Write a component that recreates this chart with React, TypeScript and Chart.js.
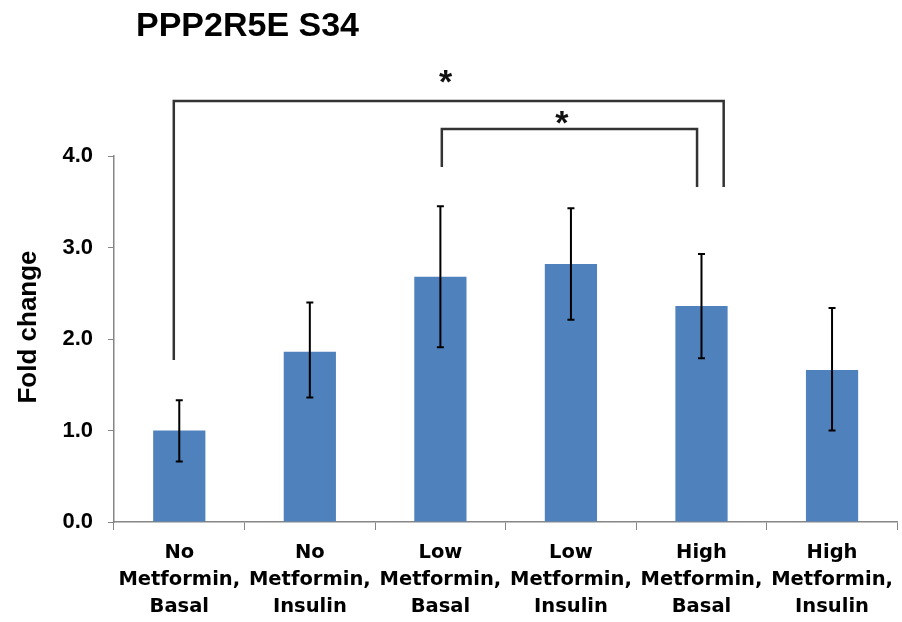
import React, { useEffect, useRef } from "react";
import { Chart, registerables } from "chart.js";

Chart.register(...registerables);

// Conditions on the x axis (one entry per line of the label)
const categories: string[][] = [
  ["No", "Metformin,", "Basal"],
  ["No", "Metformin,", "Insulin"],
  ["Low", "Metformin,", "Basal"],
  ["Low", "Metformin,", "Insulin"],
  ["High", "Metformin,", "Basal"],
  ["High", "Metformin,", "Insulin"],
];

// Mean fold change and the ends of each error bar
const foldChange: number[] = [1.0, 1.86, 2.68, 2.82, 2.36, 1.66];
const errLow: number[] = [0.66, 1.36, 1.91, 2.21, 1.79, 1.0];
const errHigh: number[] = [1.33, 2.4, 3.45, 3.43, 2.93, 2.34];

const yTicks: number[] = [0, 1, 2, 3, 4];

// Significance brackets: x in category index units, y in fold-change units
type Bracket = {
  x1: number;
  x2: number;
  top: number;
  leftEnd: number;
  rightEnd: number;
  starX: number;
  starY: number;
};
const brackets: Bracket[] = [
  { x1: -0.042, x2: 4.17, top: 4.6, leftEnd: 1.77, rightEnd: 3.66, starX: 2.04, starY: 4.9 },
  { x1: 2.011, x2: 3.966, top: 4.295, leftEnd: 3.88, rightEnd: 3.66, starX: 2.93, starY: 4.45 },
];

const TITLE = "PPP2R5E S34";
const Y_TITLE = "Fold change";
const AXIS_GREY = "#868686";

const overlayPlugin = {
  id: "errorBarsAndBrackets",
  afterDraw(chart: Chart) {
    const ctx = chart.ctx;
    const xs = chart.scales.x;
    const ys = chart.scales.y;
    const area = chart.chartArea;

    // error bars
    ctx.save();
    ctx.strokeStyle = "#000";
    ctx.lineWidth = 2;
    const cap = 3.5;
    foldChange.forEach((_, i) => {
      const x = xs.getPixelForValue(i);
      const yl = ys.getPixelForValue(errLow[i]);
      const yh = ys.getPixelForValue(errHigh[i]);
      ctx.beginPath();
      ctx.moveTo(x, yl);
      ctx.lineTo(x, yh);
      ctx.moveTo(x - cap, yh);
      ctx.lineTo(x + cap, yh);
      ctx.moveTo(x - cap, yl);
      ctx.lineTo(x + cap, yl);
      ctx.stroke();
    });
    ctx.restore();

    // significance brackets
    ctx.save();
    ctx.strokeStyle = "#333";
    ctx.lineWidth = 2.5;
    ctx.lineJoin = "miter";
    brackets.forEach((b) => {
      const xa = xs.getPixelForValue(b.x1);
      const xb = xs.getPixelForValue(b.x2);
      const yt = ys.getPixelForValue(b.top);
      ctx.beginPath();
      ctx.moveTo(xa, ys.getPixelForValue(b.leftEnd));
      ctx.lineTo(xa, yt);
      ctx.lineTo(xb, yt);
      ctx.lineTo(xb, ys.getPixelForValue(b.rightEnd));
      ctx.stroke();

      ctx.fillStyle = "#111";
      ctx.font = "bold 34px 'Liberation Sans', Arial, sans-serif";
      ctx.textAlign = "center";
      ctx.textBaseline = "alphabetic";
      ctx.fillText("*", xs.getPixelForValue(b.starX), ys.getPixelForValue(b.starY) + 19);
    });
    ctx.restore();

    // y-axis title, rotated
    ctx.save();
    ctx.fillStyle = "#000";
    ctx.font = "bold 26px 'Liberation Sans', Arial, sans-serif";
    ctx.textAlign = "center";
    ctx.textBaseline = "middle";
    ctx.translate(29, (area.top + area.bottom) / 2 - 12);
    ctx.rotate(-Math.PI / 2);
    ctx.fillText(Y_TITLE, 0, 0);
    ctx.restore();

    // chart heading
    ctx.save();
    ctx.fillStyle = "#000";
    ctx.font = "bold 34px 'Liberation Sans', Arial, sans-serif";
    ctx.textAlign = "left";
    ctx.textBaseline = "alphabetic";
    ctx.fillText(TITLE, area.left + 22, 36);
    ctx.restore();
  },
};

export default function App() {
  const canvasRef = useRef<HTMLCanvasElement | null>(null);

  useEffect(() => {
    if (!canvasRef.current) return;
    const chart = new Chart(canvasRef.current, {
      type: "bar",
      data: {
        labels: categories,
        datasets: [
          {
            data: foldChange,
            backgroundColor: "#4F81BD",
            borderWidth: 0,
            barPercentage: 0.4,
            categoryPercentage: 1,
          },
        ],
      },
      options: {
        responsive: false,
        animation: false,
        layout: { padding: { top: 156, right: 1, bottom: 0, left: 0 } },
        plugins: {
          legend: { display: false },
          tooltip: { enabled: false },
          title: { display: false },
        },
        scales: {
          x: {
            offset: true,
            afterFit(scale: any) {
              scale.height = 100;
            },
            grid: {
              display: true,
              offset: true,
              drawOnChartArea: false,
              color: AXIS_GREY,
              tickLength: 8,
            },
            border: { color: AXIS_GREY, width: 1.5 },
            ticks: {
              autoSkip: false,
              maxRotation: 0,
              minRotation: 0,
              padding: 9,
              color: "#000",
              font: {
                family: "'DejaVu Sans', Verdana, sans-serif",
                weight: "bold",
                size: 19.5,
                lineHeight: 1.39,
              },
            },
          },
          y: {
            min: 0,
            max: 4,
            afterFit(scale: any) {
              scale.width = 114;
            },
            afterBuildTicks(scale: any) {
              scale.ticks = yTicks.map((v) => ({ value: v }));
            },
            grid: {
              display: true,
              drawOnChartArea: false,
              color: AXIS_GREY,
              tickLength: 6,
            },
            border: { color: AXIS_GREY, width: 1.5 },
            ticks: {
              padding: 15,
              color: "#000",
              font: {
                family: "'Liberation Sans', Arial, sans-serif",
                weight: "bold",
                size: 22,
              },
              callback: (v: any) => Number(v).toFixed(1),
            },
          },
        },
      },
      plugins: [overlayPlugin],
    });
    return () => chart.destroy();
  }, []);

  return (
    <div
      style={{
        position: "fixed",
        left: 0,
        top: 0,
        width: 902,
        height: 622,
        background: "#fff",
      }}
    >
      <canvas ref={canvasRef} width={902} height={622} />
    </div>
  );
}
